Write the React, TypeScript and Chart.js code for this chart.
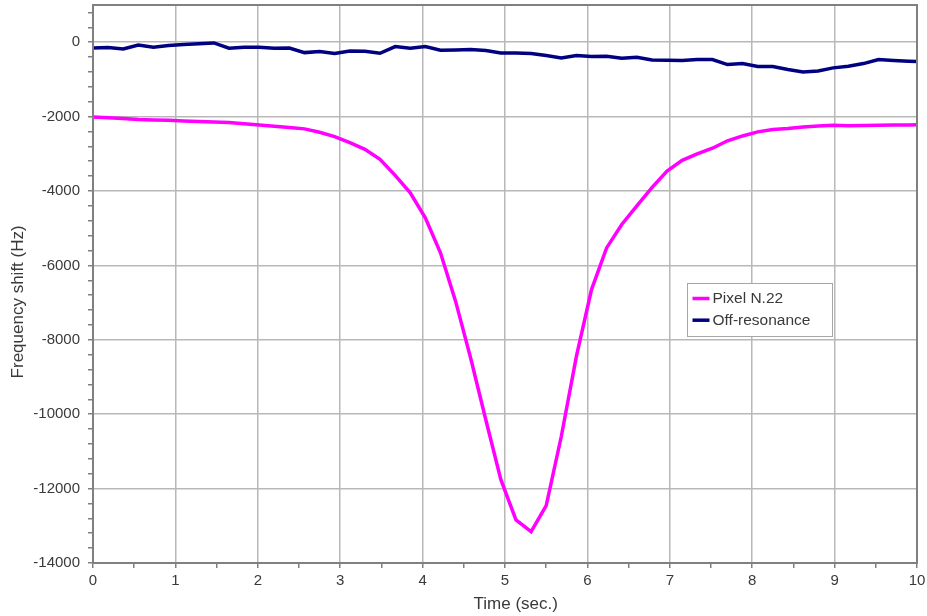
import React, { useEffect, useRef } from 'react';
import { Chart, registerables } from 'chart.js';

Chart.register(...registerables);

const TIME = [
  0, 0.183, 0.367, 0.55, 0.733, 0.917, 1.1, 1.283, 1.467, 1.65,
  1.833, 2.017, 2.2, 2.383, 2.567, 2.75, 2.933, 3.117, 3.3, 3.483,
  3.667, 3.85, 4.033, 4.217, 4.4, 4.583, 4.767, 4.95, 5.133, 5.317,
  5.5, 5.683, 5.867, 6.05, 6.233, 6.417, 6.6, 6.783, 6.967, 7.15,
  7.333, 7.517, 7.7, 7.883, 8.067, 8.25, 8.433, 8.617, 8.8, 8.983,
  9.167, 9.35, 9.533, 9.717, 9.9, 10.083,
];

const PIXEL_N22 = [
  -2010, -2030, -2050, -2075, -2090, -2100, -2115, -2130, -2145, -2160,
  -2190, -2225, -2260, -2290, -2330, -2420, -2540, -2700, -2880, -3150,
  -3580, -4050, -4720, -5660, -6960, -8490, -10150, -11760, -12840, -13155,
  -12460, -10600, -8440, -6650, -5530, -4900, -4400, -3910, -3465, -3175,
  -3000, -2850, -2650, -2520, -2410, -2345, -2320, -2280, -2250, -2235,
  -2245, -2240, -2230, -2225, -2225, -2220,
];

const OFF_RESONANCE = [
  -155, -140, -180, -75, -135, -90, -65, -40, -20, -160,
  -135, -135, -160, -155, -280, -250, -305, -235, -245, -297,
  -118, -162, -118, -216, -207, -198, -225, -288, -288, -306,
  -360, -422, -360, -387, -378, -430, -405, -476, -485, -494,
  -467, -467, -602, -575, -655, -655, -736, -800, -772, -690,
  -646, -575, -467, -494, -512, -525,
];

const SERIES_LABELS = ['Pixel N.22', 'Off-resonance'];
const SERIES_COLORS = ['#ff00ff', '#000080'];

const Y_TICK_LABELS = [0, -2000, -4000, -6000, -8000, -10000, -12000, -14000];
const X_TICK_LABELS = [0, 1, 2, 3, 4, 5, 6, 7, 8, 9, 10];

const X_TITLE = 'Time (sec.)';
const Y_TITLE = 'Frequency shift (Hz)';

const FONT = 'Liberation Sans, Arial, Helvetica, sans-serif';
const TEXT = '#3a3a3a';
const GRID = '#b8b8b8';
const FRAME = '#808080';

const framePlugin = {
  id: 'frameAndLegend',
  afterDraw(chart: any) {
    const ctx = chart.ctx;
    const ca = chart.chartArea;
    ctx.save();
    ctx.strokeStyle = FRAME;
    ctx.lineWidth = 2;
    ctx.strokeRect(ca.left, ca.top, ca.right - ca.left, ca.bottom - ca.top);

    const w = ca.right - ca.left;
    const h = ca.bottom - ca.top;

    // axis titles
    ctx.fillStyle = TEXT;
    ctx.font = `17px ${FONT}`;
    ctx.textAlign = 'center';
    ctx.textBaseline = 'middle';
    ctx.fillText(X_TITLE, ca.left + 0.513 * w, chart.height - 12);
    ctx.save();
    ctx.translate(18, ca.top + 0.532 * h);
    ctx.rotate(-Math.PI / 2);
    ctx.fillText(Y_TITLE, 0, 0);
    ctx.restore();

    // legend box
    const bx = Math.round(ca.left + 0.7205 * w) + 0.5;
    const by = Math.round(ca.top + 0.4982 * h) + 0.5;
    const bw = 145;
    const bh = 53;
    ctx.fillStyle = '#ffffff';
    ctx.fillRect(bx, by, bw, bh);
    ctx.strokeStyle = '#a6a6a6';
    ctx.lineWidth = 1;
    ctx.strokeRect(bx, by, bw, bh);

    ctx.font = `15.5px ${FONT}`;
    ctx.textBaseline = 'middle';
    ctx.textAlign = 'left';
    chart.data.datasets.forEach((ds: any, i: number) => {
      const cy = by + 15 + i * 21.7;
      ctx.strokeStyle = ds.borderColor;
      ctx.lineWidth = 3.5;
      ctx.beginPath();
      ctx.moveTo(bx + 5, cy);
      ctx.lineTo(bx + 22, cy);
      ctx.stroke();
      ctx.fillStyle = TEXT;
      ctx.fillText(ds.label, bx + 25, cy + 0.5);
    });
    ctx.restore();
  },
};

export default function App() {
  const ref = useRef<HTMLCanvasElement | null>(null);

  useEffect(() => {
    if (!ref.current) return;
    const mk = (vals: number[]) => TIME.map((t, i) => ({ x: t, y: vals[i] }));
    const chart = new Chart(ref.current, {
      type: 'line',
      data: {
        datasets: [
          {
            label: SERIES_LABELS[0],
            data: mk(PIXEL_N22),
            borderColor: SERIES_COLORS[0],
            backgroundColor: SERIES_COLORS[0],
            borderWidth: 3.5,
            pointRadius: 0,
            tension: 0,
            clip: 0,
          },
          {
            label: SERIES_LABELS[1],
            data: mk(OFF_RESONANCE),
            borderColor: SERIES_COLORS[1],
            backgroundColor: SERIES_COLORS[1],
            borderWidth: 3.5,
            pointRadius: 0,
            tension: 0,
            clip: 0,
          },
        ],
      },
      options: {
        animation: false,
        responsive: false,
        maintainAspectRatio: false,
        layout: { padding: { top: 5, right: 10, left: 0, bottom: 0 } },
        plugins: {
          legend: { display: false },
          tooltip: { enabled: false },
        },
        scales: {
          x: {
            type: 'linear',
            min: 0,
            max: 10,
            afterBuildTicks: (scale: any) => {
              const t: any[] = [];
              for (let k = 0; k <= 20; k++) t.push({ value: k / 2 });
              scale.ticks = t;
            },
            afterFit: (scale: any) => {
              scale.height = 53;
              scale.paddingLeft = 0;
              scale.paddingRight = 0;
            },
            ticks: {
              autoSkip: false,
              maxRotation: 0,
              padding: 4,
              color: TEXT,
              font: { family: FONT, size: 15 },
              callback: (v: any) => {
                const n = Number(v);
                return X_TICK_LABELS.includes(n) ? String(n) : '';
              },
            },
            grid: {
              color: (c: any) =>
                c.tick && Number.isInteger(c.tick.value) ? GRID : 'rgba(0,0,0,0)',
              tickColor: FRAME,
              tickLength: 5,
              lineWidth: 1.5,
            },
            border: { display: false },
            title: { display: false },
          },
          y: {
            type: 'linear',
            min: -14000,
            max: 1000,
            afterBuildTicks: (scale: any) => {
              const t: any[] = [];
              for (let v = -14000; v <= 800; v += 400) t.push({ value: v });
              scale.ticks = t;
            },
            afterFit: (scale: any) => {
              scale.width = 93;
              scale.paddingTop = 0;
              scale.paddingBottom = 0;
            },
            ticks: {
              autoSkip: false,
              padding: 8,
              color: TEXT,
              font: { family: FONT, size: 15 },
              callback: (v: any) => {
                const n = Number(v);
                return Y_TICK_LABELS.includes(n) ? String(n) : '';
              },
            },
            grid: {
              color: (c: any) =>
                c.tick && c.tick.value % 2000 === 0 ? GRID : 'rgba(0,0,0,0)',
              tickColor: FRAME,
              tickLength: 5,
              lineWidth: 1.5,
            },
            border: { display: false },
            title: { display: false },
          },
        },
      },
      plugins: [framePlugin],
    } as any);
    return () => chart.destroy();
  }, []);

  return (
    <div style={{ position: 'fixed', left: 0, top: 0, width: 927, height: 616, background: '#fff' }}>
      <canvas ref={ref} width={927} height={616} style={{ display: 'block' }} />
    </div>
  );
}
